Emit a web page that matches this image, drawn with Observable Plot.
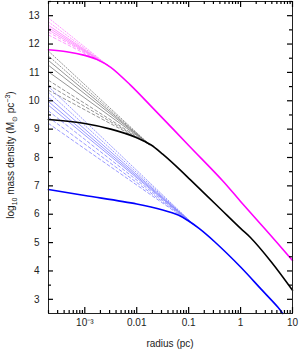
<!DOCTYPE html>
<html><head><meta charset="utf-8">
<script src="https://cdn.jsdelivr.net/npm/d3@7"></script>
<script src="https://cdn.jsdelivr.net/npm/@observablehq/plot@0.6"></script>
<style>
body{margin:0;background:#fff}
svg{font-family:"Liberation Sans",Arial,sans-serif}
</style>
</head><body><div id="chart"></div>
<script>
// Thick profiles: log10 radius (pc) and log10 density
const magentaLogR = [-3.7, -3.35, -3.0, -2.76, -2.5, -2.12, -1.73, -0.98, -0.35, 0, 0.48, 1];
const magentaVal  = [11.80, 11.73, 11.60, 11.45, 11.18, 10.55, 9.82, 8.39, 7.19, 6.45, 5.46, 4.37];
const blackLogR = [-3.7, -3, -2.5, -2, -1.73, -1.5, -1.15, -0.96, -0.45, 0, 0.19, 0.6, 1];
const blackVal  = [9.34, 9.20, 9.00, 8.70, 8.45, 8.12, 7.54, 7.20, 6.30, 5.50, 5.18, 4.30, 3.32];
const blueLogR = [-3.7, -3, -2, -1.5, -1.2, -1, -0.8, -0.5, 0, 0.4, 0.72, 0.81];
const blueVal  = [6.87, 6.66, 6.36, 6.15, 5.97, 5.76, 5.50, 5.03, 4.14, 3.35, 2.72, 2.5];

// Thin cusp lines: start value at left edge, join point on thick profile
const magentaThinDotted = [12.92, 12.78];
const magentaThinSolid  = [12.66, 12.58, 12.50];
const magentaThinDashed = [12.42, 12.32];
const magentaJoin = [-2.55, 11.24];
const blackThinDotted = [11.75, 11.58];
const blackThinSolid  = [11.42, 11.25, 11.02];
const blackThinDashed = [10.72, 10.55, 10.37];
const blackJoin = [-1.75, 8.45];
const blueThinDotted = [10.50, 10.30];
const blueThinSolid  = [10.12, 9.97, 9.84];
const blueThinDashed = [9.64, 9.42, 9.20];
const blueJoin = [-0.88, 5.6];

const xTicks = [1e-3, 0.01, 0.1, 1, 10];
const xTickLabels = ["10⁻³", "0.01", "0.1", "1", "10"];
const yTicks = [3, 4, 5, 6, 7, 8, 9, 10, 11, 12, 13];

const X0 = 2e-4, X1 = 10, Y0 = 2.5, Y1 = 13.5;
const W = 299, H = 351, mL = 48, mR = 7, mT = 1, mB = 38;
const pw = W - mL - mR, ph = H - mT - mB;

const rows = (lr, v) => lr.map((d, i) => ({r: Math.pow(10, d), v: v[i]}));
const thinRows = (starts, join) => starts.flatMap((s, i) => [
  {id: i, r: X0, v: s}, {id: i, r: Math.pow(10, join[0]), v: join[1]}
]);

const xMinor = d3.scaleLog().domain([X0, X1]).ticks().filter(d => !xTicks.some(t => Math.abs(t - d) / t < 1e-6));
const yMinor = d3.range(3, 13.6, 0.5).filter(d => !yTicks.includes(d));
const labelMap = new Map(xTicks.map((d, i) => [d, xTickLabels[i]]));

// tick lengths converted to data units
const tickDY = px => px / ph * (Y1 - Y0);
const tickFX = px => Math.pow(10, px / pw * Math.log10(X1 / X0));

const thin = (starts, join, color, dash) => Plot.line(thinRows(starts, join), {
  x: "r", y: "v", z: "id", stroke: color, strokeWidth: 0.8, strokeDasharray: dash
});
const ts = {stroke: "#000", strokeWidth: 1.2};

const chart = Plot.plot({
  width: W, height: H,
  marginLeft: mL, marginRight: mR, marginTop: mT, marginBottom: mB,
  x: {type: "log", domain: [X0, X1], axis: null},
  y: {domain: [Y0, Y1], axis: null},
  marks: [
    thin(magentaThinDotted, magentaJoin, "#ff80ff", "1.2,1.8"),
    thin(magentaThinSolid, magentaJoin, "#ff80ff", null),
    thin(magentaThinDashed, magentaJoin, "#ff80ff", "3,2.5"),
    thin(blackThinDotted, blackJoin, "#7a7a7a", "1.2,1.8"),
    thin(blackThinSolid, blackJoin, "#7a7a7a", null),
    thin(blackThinDashed, blackJoin, "#7a7a7a", "3,2.5"),
    thin(blueThinDotted, blueJoin, "#8080ff", "1.2,1.8"),
    thin(blueThinSolid, blueJoin, "#8080ff", null),
    thin(blueThinDashed, blueJoin, "#8080ff", "3,2.5"),
    Plot.line(rows(magentaLogR, magentaVal), {x: "r", y: "v", stroke: "#ff00ff", strokeWidth: 1.6, curve: "catmull-rom"}),
    Plot.line(rows(blackLogR, blackVal), {x: "r", y: "v", stroke: "#000", strokeWidth: 1.6, curve: "catmull-rom"}),
    Plot.line(rows(blueLogR, blueVal), {x: "r", y: "v", stroke: "#0000ff", strokeWidth: 1.6, curve: "catmull-rom"}),
    Plot.axisX(xTicks, {tickSize: 0, tickPadding: 5, label: null, tickFormat: d => labelMap.get(d), fontSize: 10, fill: "#222"}),
    Plot.axisY(yTicks, {tickSize: 0, tickPadding: 9, label: null, fontSize: 10, fill: "#222"}),
    Plot.frame({stroke: "#222"}),
    // inward ticks on all four sides
    Plot.ruleX(xTicks, {x: d => d, y1: Y0, y2: Y0 + tickDY(6), ...ts}),
    Plot.ruleX(xTicks, {x: d => d, y1: Y1, y2: Y1 - tickDY(6), ...ts}),
    Plot.ruleX(xMinor, {x: d => d, y1: Y0, y2: Y0 + tickDY(3), ...ts}),
    Plot.ruleX(xMinor, {x: d => d, y1: Y1, y2: Y1 - tickDY(3), ...ts}),
    Plot.ruleY(yTicks, {y: d => d, x1: X0, x2: X0 * tickFX(5), ...ts}),
    Plot.ruleY(yTicks, {y: d => d, x1: X1, x2: X1 / tickFX(5), ...ts}),
    Plot.ruleY(yMinor, {y: d => d, x1: X0, x2: X0 * tickFX(3), ...ts}),
    Plot.ruleY(yMinor, {y: d => d, x1: X1, x2: X1 / tickFX(3), ...ts})
  ]
});

const svg = d3.select(chart);
svg.append("text")
  .attr("x", mL + pw / 2).attr("y", H - 4)
  .attr("text-anchor", "middle").attr("font-size", 10).attr("fill", "#222")
  .text("radius (pc)");
const yl = svg.append("text")
  .attr("transform", `translate(14,${mT + ph / 2 - 2}) rotate(-90)`)
  .attr("text-anchor", "middle").attr("font-size", 10).attr("fill", "#222");
yl.append("tspan").text("log");
yl.append("tspan").attr("font-size", 7).attr("dy", 2.5).text("10");
yl.append("tspan").attr("dy", -2.5).text(" mass density (M");
yl.append("tspan").attr("font-size", 7).attr("dy", 2.5).text("⊙");
yl.append("tspan").attr("dy", -2.5).text(" pc");
yl.append("tspan").attr("font-size", 7).attr("dy", -4).text("−3");
yl.append("tspan").attr("dy", 4).text(")");

document.getElementById("chart").appendChild(chart);
</script>
</body></html>
